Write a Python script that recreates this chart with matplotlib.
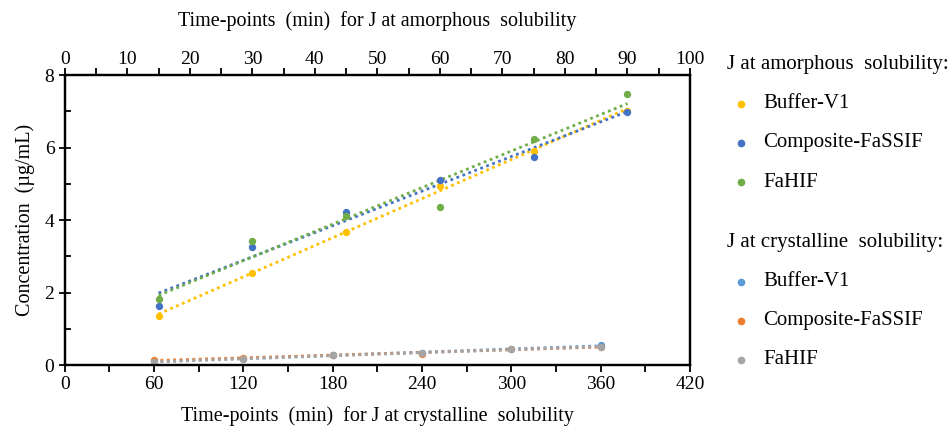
import numpy as np
import matplotlib.pyplot as plt

plt.rcParams['font.family'] = ['Liberation Serif', 'DejaVu Serif']

# amorphous solubility (top axis, min)
amor_t = [15, 30, 45, 60, 75, 90]
amor_buffer = [1.36, 2.55, 3.67, 4.94, 5.91, 7.02]
amor_composite = [1.64, 3.25, 4.23, 5.10, 5.73, 6.99]
amor_fahif = [1.82, 3.42, 4.10, 4.35, 6.23, 7.49]

# crystalline solubility (bottom axis, min)
cryst_t = [60, 120, 180, 240, 300, 360]
cryst_buffer = [0.11, 0.18, 0.27, 0.33, 0.43, 0.56]
cryst_composite = [0.13, 0.20, 0.29, 0.31, 0.44, 0.50]
cryst_fahif = [0.09, 0.16, 0.27, 0.33, 0.43, 0.51]

names = ['Buffer-V1', 'Composite-FaSSIF', 'FaHIF']
amor_colors = ['#FFC000', '#4472C4', '#70AD47']
cryst_colors = ['#5B9BD5', '#ED7D31', '#A5A5A5']

fig = plt.figure(figsize=(9.53, 4.29), dpi=100)
ax = fig.add_axes([0.068, 0.149, 0.656, 0.676])
ax2 = ax.twiny()

def trend(a, x, y, c):
    x = np.array(x, float)
    k, b = np.polyfit(x, y, 1)
    a.plot(x, k * x + b, ls=(0, (1, 1.3)), lw=2, color=c, zorder=2)
    a.scatter(x, y, s=28, color=c, zorder=3, linewidths=0)

for y, c in zip([cryst_buffer, cryst_composite, cryst_fahif], cryst_colors):
    trend(ax, cryst_t, y, c)
for y, c in zip([amor_buffer, amor_composite, amor_fahif], amor_colors):
    trend(ax2, amor_t, y, c)

ax.set_xlim(0, 420)
ax.set_ylim(0, 8)
ax2.set_xlim(0, 100)
ax.set_xticks(range(0, 421, 60))
ax.set_xticks(range(30, 421, 60), minor=True)
ax.set_yticks(range(0, 9, 2))
ax.set_yticks(range(1, 9, 2), minor=True)
ax2.set_xticks(range(0, 101, 10))
ax2.set_xticks(range(5, 101, 10), minor=True)

fs = 14
for a in (ax, ax2):
    for s in a.spines.values():
        s.set_linewidth(1.6)
ax.tick_params(axis='x', which='both', direction='out', length=5, width=1.3, labelsize=fs, pad=3)
ax.tick_params(axis='y', which='major', direction='inout', length=8, width=1.3, labelsize=fs)
ax.tick_params(axis='y', which='minor', direction='in', length=4, width=1.3)
ax2.tick_params(axis='x', which='both', direction='out', length=5, width=1.3, labelsize=fs, pad=0)

ax.set_xlabel('Time-points  (min)  for J at crystalline  solubility', fontsize=fs + 0.5, labelpad=9)
ax2.set_xlabel('Time-points  (min)  for J at amorphous  solubility', fontsize=fs + 0.5, labelpad=18)
ax.set_ylabel('Concentration  (µg/mL)', fontsize=fs + 0.5, labelpad=7)

# legend built as text
hx, mx, tx = 727 / 953, 741 / 953, 763 / 953
def ypos(py):
    return 1 - py / 429

lfs = 15
fig.text(hx, ypos(65), 'J at amorphous  solubility:', fontsize=lfs, va='center')
for i, (n, c) in enumerate(zip(names, amor_colors)):
    yy = ypos(104 + 39 * i)
    fig.lines.append(plt.Line2D([mx], [yy], marker='o', ms=4.5, color=c, ls='none',
                                transform=fig.transFigure))
    fig.text(tx, yy, n, fontsize=lfs, va='center')

fig.text(hx, ypos(243), 'J at crystalline  solubility:', fontsize=lfs, va='center')
for i, (n, c) in enumerate(zip(names, cryst_colors)):
    yy = ypos(282 + 39 * i)
    fig.lines.append(plt.Line2D([mx], [yy], marker='o', ms=4.5, color=c, ls='none',
                                transform=fig.transFigure))
    fig.text(tx, yy, n, fontsize=lfs, va='center')

fig.savefig('out.png', dpi=100)
